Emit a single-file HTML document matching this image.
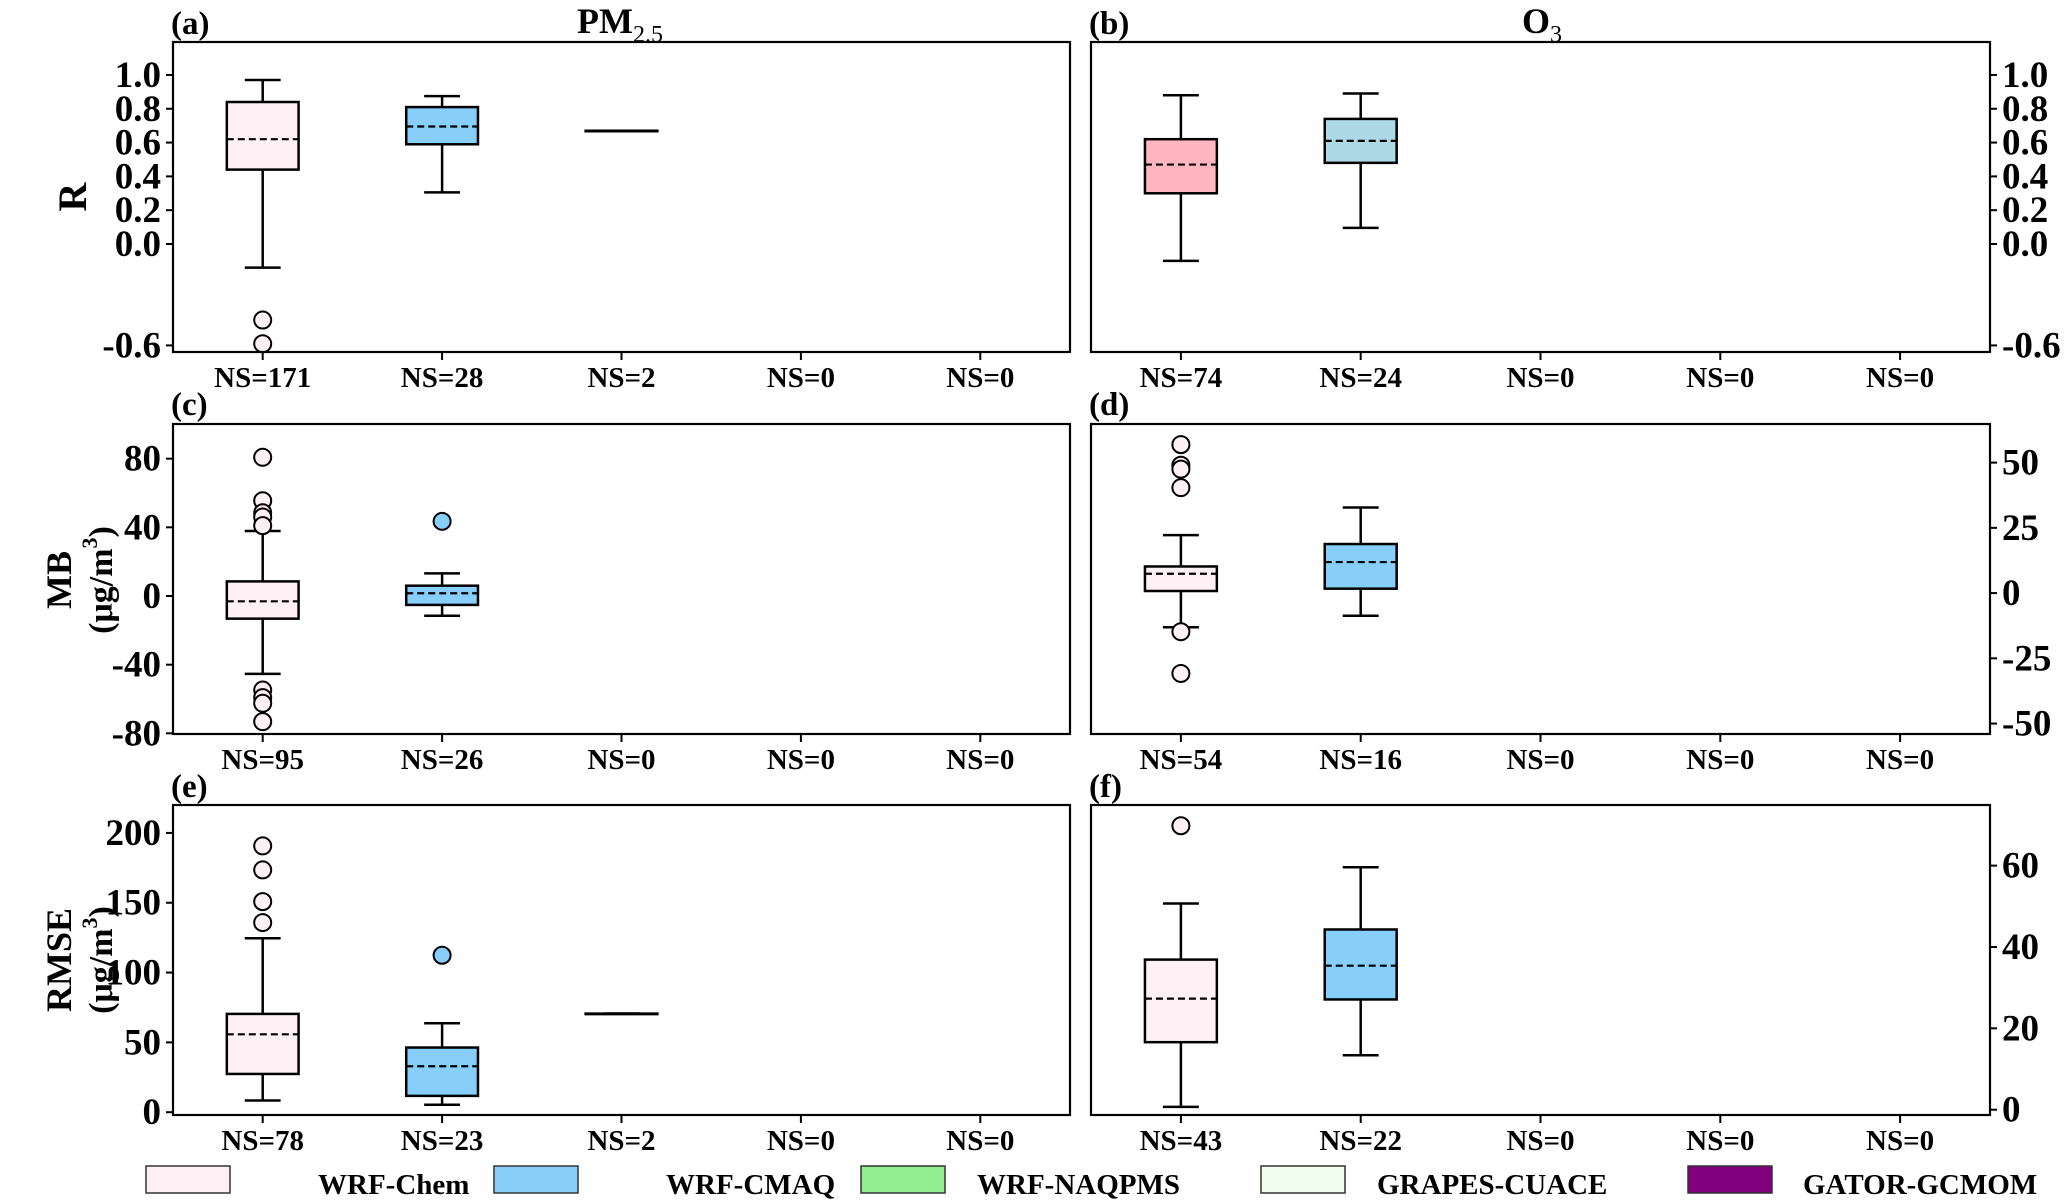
<!DOCTYPE html>
<html><head><meta charset="utf-8"><style>
html,body{margin:0;padding:0;background:#fff;}
svg{display:block;font-family:"Liberation Serif",serif;font-weight:bold;}
</style></head><body>
<svg id="chart" width="2067" height="1201" viewBox="0 0 2067 1201" xmlns="http://www.w3.org/2000/svg"></svg>
<script>
const categories = ["WRF-Chem","WRF-CMAQ","WRF-NAQPMS","GRAPES-CUACE","GATOR-GCMOM"];
// [whiskerLow, q1, mean, q3, whiskerHigh]
const boxesA = [[-0.14,0.44,0.62,0.84,0.97],[0.305,0.59,0.695,0.81,0.875],[0.67,0.67,0.67,0.67,0.67]];
const outliersA = [[-0.45,-0.59],[],[]];
const nsA = [171,28,2,0,0];
const boxesB = [[-0.10,0.30,0.47,0.62,0.88],[0.095,0.48,0.61,0.74,0.89]];
const outliersB = [[],[]];
const nsB = [74,24,0,0,0];
const boxesC = [[-45.4,-13.2,-3.1,8.5,37.9],[-11.5,-5.2,1.6,6,13.2]];
const outliersC = [[80.8,55.5,48.5,46,41,-54.8,-59.2,-62.5,-73.2],[43.5]];
const nsC = [95,26,0,0,0];
const boxesD = [[-13.1,0.8,7.4,10.2,22.2],[-8.7,1.7,11.9,18.8,32.8]];
const outliersD = [[56.9,49,47.5,40.4,-14.8,-30.8],[]];
const nsD = [54,16,0,0,0];
const boxesE = [[8.4,27.4,55.8,70.4,124.6],[5.3,11.7,32.9,46.3,63.7],[70.6,70.6,70.6,70.6,70.6]];
const outliersE = [[190.7,173.5,150.8,135.8],[112.4],[]];
const nsE = [78,23,2,0,0];
const boxesF = [[0.7,16.6,27.3,36.9,50.7],[13.4,27.1,35.4,44.3,59.6]];
const outliersF = [[69.8],[]];
const nsF = [43,22,0,0,0];
const ticksA = [1.0,0.8,0.6,0.4,0.2,0.0,-0.6];
const tickLabelsA = ["1.0","0.8","0.6","0.4","0.2","0.0","-0.6"];
const ticksC = [80,40,0,-40,-80];
const ticksD = [50,25,0,-25,-50];
const ticksE = [200,150,100,50,0];
const ticksF = [60,40,20,0];

const NS = "http://www.w3.org/2000/svg";
const svg = document.getElementById('chart');
const SX = 1.0;
function el(tag, attrs, parent){
  const e = document.createElementNS(NS, tag);
  for (const k in attrs) e.setAttribute(k, attrs[k]);
  (parent||svg).appendChild(e);
  return e;
}
function label(x, y, str, size, anchor, name, parent){
  const g = el('g', {transform:`translate(${x},${y}) scale(${SX},1)`}, parent);
  const t = el('text', {x:0, y:0, 'font-size':size, 'text-anchor':anchor||'middle', fill:'#000'}, g);
  t.textContent = str;
  
  
  return t;
}
const fillsDefault = ["#FFF0F5","#87CEFA","#90EE90","#F0FFF0","#800080"];
const fillsB = ["#FFB6C1","#ADD8E6","#90EE90","#F0FFF0","#800080"];

function panel(opt){
  const {x0,x1,y0,y1,dom,boxes,outliers,ns,ticks,tickLabels,side,fills,name} = opt;
  const g = el('g', {});
  
  
  const yS = v => y1 - (v - dom[0]) / (dom[1]-dom[0]) * (y1-y0);
  const unit = (x1-x0)/5;
  const xS = i => x0 + (i+0.5)*unit;
  ticks.forEach((v,i)=>{
    const y = yS(v);
    if (side==='left'){
      el('line',{x1:x0-7,x2:x0,y1:y,y2:y,stroke:'#000','stroke-width':2},g);
      label(x0-12, y+12, tickLabels[i], 37, 'end', 'y-tick-label', g);
    } else {
      el('line',{x1:x1,x2:x1+7,y1:y,y2:y,stroke:'#000','stroke-width':2},g);
      label(x1+12, y+12, tickLabels[i], 37, 'start', 'y-tick-label', g);
    }
  });
  ns.forEach((n,i)=>{
    const x = xS(i);
    el('line',{x1:x,x2:x,y1:y1,y2:y1+8,stroke:'#000','stroke-width':2},g);
    label(x, y1+35, 'NS='+n, 29, 'middle', 'sample-count-label', g);
  });
  boxes.forEach((b,i)=>{
    const cx = xS(i), hw = 0.2*unit, cw = 0.1*unit;
    const bg = el('g',{},g);
    
    
    const s = {stroke:'#000','stroke-width':2.5};
    el('line',Object.assign({x1:cx,x2:cx,y1:yS(b[3]),y2:yS(b[4])},s),bg);
    el('line',Object.assign({x1:cx,x2:cx,y1:yS(b[0]),y2:yS(b[1])},s),bg);
    el('line',Object.assign({x1:cx-cw,x2:cx+cw,y1:yS(b[4]),y2:yS(b[4])},s),bg);
    el('line',Object.assign({x1:cx-cw,x2:cx+cw,y1:yS(b[0]),y2:yS(b[0])},s),bg);
    el('rect',{x:cx-hw,y:yS(b[3]),width:2*hw,height:Math.max(0.5,yS(b[1])-yS(b[3])),fill:fills[i],stroke:'#000','stroke-width':2.5},bg);
    el('line',{x1:cx-hw,x2:cx+hw,y1:yS(b[2]),y2:yS(b[2]),stroke:'#000','stroke-width':2.2,'stroke-dasharray':'7,4'},bg);
    (outliers[i]||[]).forEach(v=>{
      const c = el('circle',{cx:cx,cy:yS(v),r:8.5,fill:fills[i],stroke:'#000','stroke-width':2},bg);
      
      
    });
  });
  const fr = el('rect',{x:x0,y:y0,width:x1-x0,height:y1-y0,fill:'none',stroke:'#000','stroke-width':2.2},g);
  
  
}
const L0=173, L1=1070, R0=1091, R1=1990;
const rows = [[42,352],[424,734],[805,1115]];
panel({x0:L0,x1:L1,y0:rows[0][0],y1:rows[0][1],dom:[-0.639,1.195],boxes:boxesA,outliers:outliersA,ns:nsA,ticks:ticksA,tickLabels:tickLabelsA,side:'left',fills:fillsDefault,name:'panel-a-pm25-r'});
panel({x0:R0,x1:R1,y0:rows[0][0],y1:rows[0][1],dom:[-0.639,1.195],boxes:boxesB,outliers:outliersB,ns:nsB,ticks:ticksA,tickLabels:tickLabelsA,side:'right',fills:fillsB,name:'panel-b-o3-r'});
panel({x0:L0,x1:L1,y0:rows[1][0],y1:rows[1][1],dom:[-80.4,100.2],boxes:boxesC,outliers:outliersC,ns:nsC,ticks:ticksC,tickLabels:ticksC.map(String),side:'left',fills:fillsDefault,name:'panel-c-pm25-mb'});
panel({x0:R0,x1:R1,y0:rows[1][0],y1:rows[1][1],dom:[-54,64.8],boxes:boxesD,outliers:outliersD,ns:nsD,ticks:ticksD,tickLabels:ticksD.map(String),side:'right',fills:fillsDefault,name:'panel-d-o3-mb'});
panel({x0:L0,x1:L1,y0:rows[2][0],y1:rows[2][1],dom:[-2,220],boxes:boxesE,outliers:outliersE,ns:nsE,ticks:ticksE,tickLabels:ticksE.map(String),side:'left',fills:fillsDefault,name:'panel-e-pm25-rmse'});
panel({x0:R0,x1:R1,y0:rows[2][0],y1:rows[2][1],dom:[-1.3,74.9],boxes:boxesF,outliers:outliersF,ns:nsF,ticks:ticksF,tickLabels:ticksF.map(String),side:'right',fills:fillsDefault,name:'panel-f-o3-rmse'});

[["(a)",171,34],["(b)",1089,34],["(c)",171,415],["(d)",1089,415],["(e)",171,797],["(f)",1089,797]].forEach(p=>{
  label(p[1],p[2],p[0],33,'start','panel-letter');
});
(function(){
  const t = el('text',{x:620,y:33,'font-size':36,'text-anchor':'middle'});
  
  
  t.innerHTML = 'PM<tspan font-size="24" font-weight="normal" dy="9">2.5</tspan>';
  const t2 = el('text',{x:1542,y:33,'font-size':36,'text-anchor':'middle'});
  
  
  t2.innerHTML = 'O<tspan font-size="24" font-weight="normal" dy="9">3</tspan>';
})();
function ytitle(x,y,html,name,size){
  const g = el('g',{transform:`translate(${x},${y}) rotate(-90)`});
  const t = el('text',{x:0,y:0,'font-size':size,'text-anchor':'middle'},g);
  
  
  t.innerHTML = html;
}
ytitle(86,197,'R','y-axis-title-r',40);
ytitle(71,580,'MB','y-axis-title-mb',36);
ytitle(112,580,'(μg/m<tspan font-size="22" dy="-15">3</tspan><tspan dy="15">)</tspan>','y-axis-unit-mb',34);
ytitle(71,960,'RMSE','y-axis-title-rmse',36);
ytitle(112,960,'(μg/m<tspan font-size="22" dy="-15">3</tspan><tspan dy="15">)</tspan>','y-axis-unit-rmse',34);

const legendBoxX = [146,494,861,1261,1688];
const legendTextX = [318,666,977,1377,1803];
categories.forEach((c,i)=>{
  const g = el('g',{});
  
  
  el('rect',{x:legendBoxX[i],y:1166,width:84,height:27,fill:fillsDefault[i],stroke:'#333','stroke-width':1.5},g);
  label(legendTextX[i],1194,c,29,'start','legend-label',g);
});
</script>
</body></html>
